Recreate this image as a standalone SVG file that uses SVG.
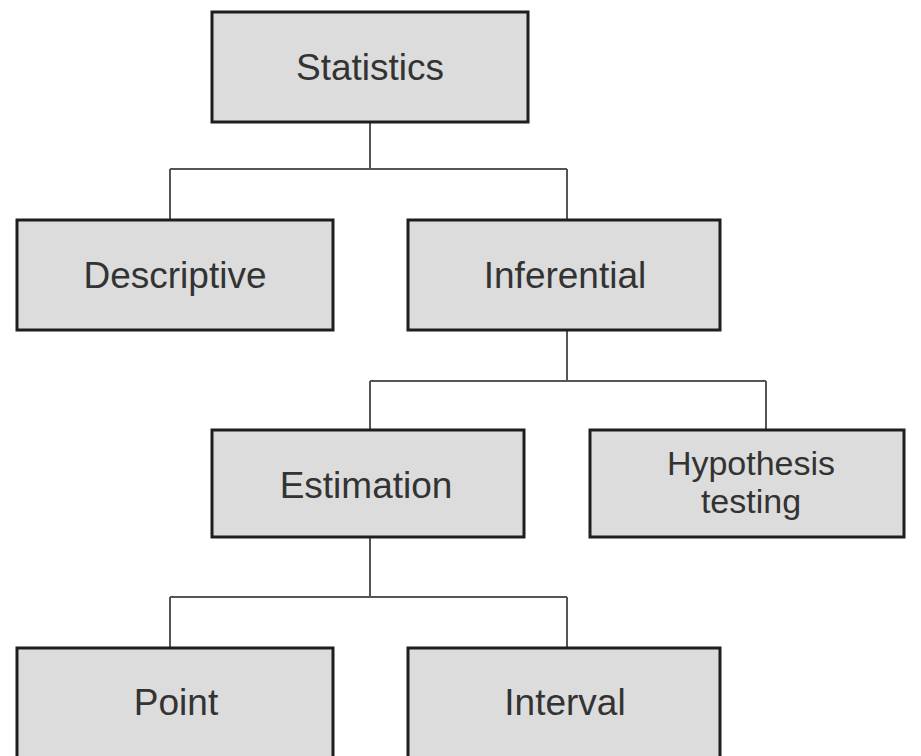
<svg xmlns="http://www.w3.org/2000/svg" width="921" height="756" viewBox="0 0 921 756">
<style>
.box{fill:#dcdcdc;stroke:#1e1e1e;stroke-width:3}
.lbl{font-family:"Liberation Sans",Arial,sans-serif;font-size:37px;fill:#333;text-anchor:middle}
.sm{font-size:34px}
.conn{fill:none;stroke:#555;stroke-width:2}
</style>
<rect width="921" height="756" fill="#fff"/>
<g id="connectors">
<path class="conn" d="M370 122V169M170 169H567M170 169V220M567 169V220"/>
<path class="conn" d="M567 330V381M370 381H766M370 381V430M766 381V430"/>
<path class="conn" d="M370 537V597M170 597H567M170 597V648M567 597V648"/>
</g>
<g id="statistics"><rect class="box" x="212" y="12" width="316" height="110"/><text class="lbl" x="370" y="80">Statistics</text></g>
<g id="descriptive"><rect class="box" x="17" y="220" width="316" height="110"/><text class="lbl" x="175" y="288">Descriptive</text></g>
<g id="inferential"><rect class="box" x="408" y="220" width="312" height="110"/><text class="lbl" x="565" y="288">Inferential</text></g>
<g id="estimation"><rect class="box" x="212" y="430" width="312" height="107"/><text class="lbl" x="366" y="498">Estimation</text></g>
<g id="hypothesis"><rect class="box" x="590" y="430" width="314" height="107"/><text class="lbl sm" x="751" y="475">Hypothesis</text><text class="lbl sm" x="751" y="513">testing</text></g>
<g id="point"><rect class="box" x="17" y="648" width="316" height="112"/><text class="lbl" x="176" y="715">Point</text></g>
<g id="interval"><rect class="box" x="408" y="648" width="312" height="112"/><text class="lbl" x="565" y="715">Interval</text></g>
</svg>
